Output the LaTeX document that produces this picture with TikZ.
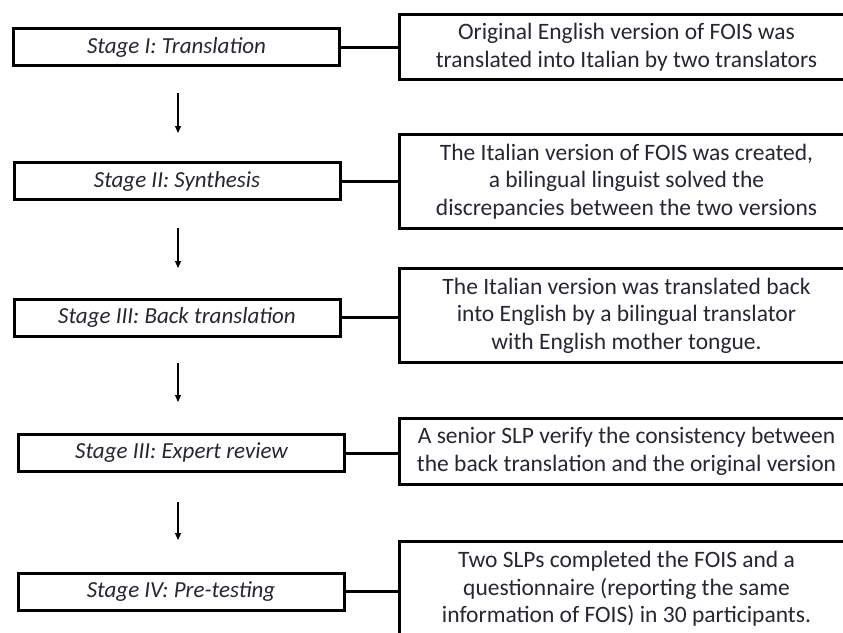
\documentclass[tikz,border=0pt]{standalone}
\usepackage{fontspec}
\setmainfont{Carlito}
\usetikzlibrary{arrows.meta}
\definecolor{ink}{RGB}{38,38,52}
\tikzset{
  stagebox/.style={draw=black, line width=3pt, rectangle, inner sep=0pt,
    minimum width=326pt, minimum height=37pt, text=ink,
    font=\fontsize{23}{26}\selectfont\itshape},
  notebox/.style={draw=black, line width=3pt, rectangle, inner sep=0pt,
    minimum width=454pt, text=ink, align=center,
    font=\fontsize{23.5}{27.5}\selectfont},
  link/.style={line width=3pt},
  flow/.style={line width=1.1pt, -{Triangle[length=7pt,width=6pt]}}
}
\begin{document}
\begin{tikzpicture}[x=1pt, y=-1pt]
  \useasboundingbox (0,0) rectangle (843,632);
  \fill[white] (0,0) rectangle (843,632);
  \clip (0,0) rectangle (843,632);

  % stage boxes (left column)
  \node[stagebox] (s1) at (176.5,47)   {Stage I: Translation};
  \node[stagebox] (s2) at (177,181)    {Stage II: Synthesis};
  \node[stagebox] (s3) at (177,317.5)  {Stage III: Back translation};
  \node[stagebox] (s4) at (181.5,453)  {Stage III: Expert review};
  \node[stagebox] (s5) at (181,591.5)  {Stage IV: Pre-testing};

  % description boxes (right column)
  \node[notebox, minimum height=65pt] (d1) at (626.5,47)
    {Original English version of FOIS was\\translated into Italian by two translators};
  \node[notebox, minimum height=94pt] (d2) at (626.5,181.5)
    {The Italian version of FOIS was created,\\a bilingual linguist solved the\\discrepancies between the two versions};
  \node[notebox, minimum height=94pt] (d3) at (626.5,315.5)
    {The Italian version was translated back\\into English by a bilingual translator\\with English mother tongue.};
  \node[notebox, minimum height=66pt] (d4) at (626.5,451.5)
    {A senior SLP verify the consistency between\\the back translation and the original version};
  \node[notebox, minimum height=96pt] (d5) at (626.5,589)
    {Two SLPs completed the FOIS and a\\questionnaire (reporting the same\\information of FOIS) in 30 participants.};

  % horizontal links
  \foreach \i in {1,...,5} \draw[link] (s\i.east) -- (s\i.east -| d\i.west);

  % vertical flow arrows
  \coordinate (a1s) at (178,93);  \coordinate (a1e) at (178,133);
  \coordinate (a2s) at (178,228); \coordinate (a2e) at (178,268);
  \coordinate (a3s) at (178,363); \coordinate (a3e) at (178,402);
  \coordinate (a4s) at (178,502); \coordinate (a4e) at (178,540);
  \foreach \i in {1,...,4} \draw[flow] (a\i s) -- (a\i e);
\end{tikzpicture}
\end{document}
